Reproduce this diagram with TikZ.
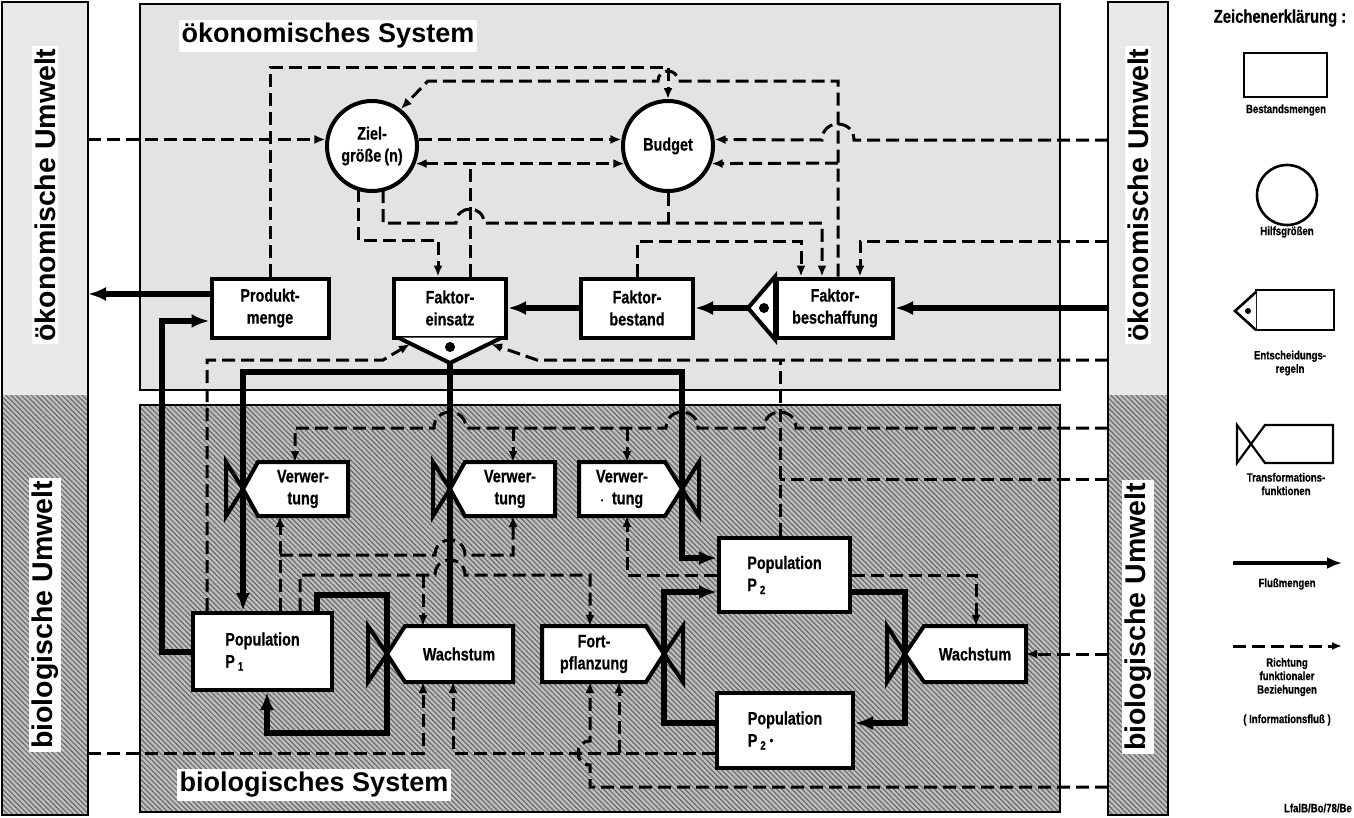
\documentclass[tikz,border=0pt]{standalone}
\usepackage{fontspec}
\setmainfont{Liberation Sans}
\newfontfamily\condf{Liberation Sans}[FakeStretch=0.8,FakeBold=0.6]
\usetikzlibrary{arrows.meta,patterns.meta}
\pgfdeclarelayer{bg}
\pgfdeclarelayer{conn}
\pgfsetlayers{bg,conn,main}
\newcommand\valveL[8]{%
  \draw[boxline,fill=white] (#4,#6) -- (#5,#6) -- (#5,#7) -- (#4,#7) -- (#3,{(#6+#7)/2}) -- cycle;
  \draw[boxline] (#2,#6) -- (#3,{(#6+#7)/2}) -- (#2,#7) -- cycle;
  \node[lab] (#1) at ({(#4+#5)/2},{(#6+#7)/2}) {#8};}
\newcommand\valveR[8]{%
  \draw[boxline,fill=white] (#2,#6) -- (#3,#6) -- (#4,{(#6+#7)/2}) -- (#3,#7) -- (#2,#7) -- cycle;
  \draw[boxline] (#5,#6) -- (#4,{(#6+#7)/2}) -- (#5,#7) -- cycle;
  \node[lab] (#1) at ({(#2+#3)/2},{(#6+#7)/2}) {#8};}
\newcommand\sbx[1]{\,\raisebox{-3pt}{\fontsize{12}{12}\selectfont #1}}
\begin{document}
\begin{tikzpicture}[x=1pt,y=-1pt,
  boxline/.style={line width=4pt,line join=miter},
  lab/.style={align=center,inner sep=0pt,font=\condf\bfseries\fontsize{18}{22}\selectfont},
  box/.style={draw,rectangle,line width=4pt,fill=white,inner sep=0pt,align=center,font=\condf\bfseries\fontsize{18}{22}\selectfont},
  circ/.style={draw,circle,line width=4pt,fill=white,minimum size=90pt,inner sep=0pt,align=center,font=\condf\bfseries\fontsize{18}{22}\selectfont},
  info/.style={line width=3pt,dash pattern=on 13pt off 6pt},
  infoa/.style={info,-{Latex[length=11pt,width=9pt]}},
  flow/.style={line width=6pt},
  flowa/.style={flow,-{Latex[length=18pt,width=14pt]}},
  sys/.style={line width=2.6pt},
  hatch/.style={fill=black!25,postaction={pattern={Lines[angle=-45,distance=3.6pt,line width=1.2pt]},pattern color=black!58}},
  title/.style={fill=white,inner sep=3pt,font=\bfseries\fontsize{27}{27}\selectfont},
  side/.style={fill=white,inner sep=3pt,rotate=90,font=\bfseries\fontsize{28.5}{28.5}\selectfont},
  leg/.style={align=center,inner sep=0pt,font=\condf\bfseries\fontsize{12}{13.5}\selectfont}]
\useasboundingbox (0,0) rectangle (1354,817);

% ---------- backgrounds ----------
\begin{pgfonlayer}{bg}
\fill[white] (0,0) rectangle (1354,817);
\fill[black!9] (2,2) rectangle (88,395);
\fill[hatch] (2,395) rectangle (88,815);
\draw[sys] (2,2) rectangle (88,815);
\fill[black!9] (1108,2) rectangle (1168,395);
\fill[hatch] (1108,395) rectangle (1168,815);
\draw[sys] (1108,2) rectangle (1168,815);
\draw[sys,fill=black!11] (140,4) rectangle (1060,390);
\fill[hatch] (140,405) rectangle (1060,812);
\draw[sys] (140,405) rectangle (1060,812);
\end{pgfonlayer}

% ---------- titles ----------
\node[title] (tEco) at (328,36) {ökonomisches System};
\node[title] (tBio) at (314,785) {biologisches System};
\node[side] (sEL) at (45,195) {ökonomische Umwelt};
\node[side] (sBL) at (45,615) {biologische Umwelt};
\node[side] (sER) at (1138,195) {ökonomische Umwelt};
\node[side] (sBR) at (1138,617) {biologische Umwelt};

% ---------- economic nodes ----------
\node[circ] (Ziel) at (372,146) {Ziel-\\größe\,(n)};
\node[circ] (Budget) at (668,146) {Budget};
\node[box,minimum width=117pt,minimum height=59pt] (Produkt) at (270,308) {Produkt-\\menge};
\node[box,minimum width=112pt,minimum height=59pt] (Einsatz) at (450,308) {Faktor-\\einsatz};
\draw[boxline,fill=white] (398,337.5) -- (450,363) -- (502,337.5);
\fill (450,347) circle (5pt);
\coordinate (Etip) at (450,363);
\node[box,minimum width=112pt,minimum height=59pt] (Bestand) at (637,308) {Faktor-\\bestand};
\node[box,minimum width=116pt,minimum height=59pt] (Besch) at (835,308) {Faktor-\\beschaffung};
\draw[boxline,fill=white] (Besch.north west) -- (748,308) -- (Besch.south west) -- cycle;
\fill (764,308) circle (5pt);

% ---------- biological nodes ----------
\node[box,minimum width=139pt,minimum height=77pt,align=left] (P1) at (262.5,651.5) {Population\\P\sbx{1}};
\node[box,minimum width=131pt,minimum height=74pt,align=left] (P2) at (784.5,575) {Population\\P\sbx{2}};
\node[box,minimum width=136pt,minimum height=75pt,align=left] (P2s) at (785,730.5) {Population\\P\sbx{2}\ \raisebox{2pt}{\fontsize{12}{12}\selectfont•}};
\valveL{Verw1}{226}{243}{258}{348}{462}{516}{Verwer-\\tung}
\valveL{Verw2}{433}{450}{465}{555}{462}{516}{Verwer-\\tung}
\valveR{Verw3}{579}{665}{682}{699}{462}{516}{Verwer-\\{\fontsize{12}{12}\selectfont·}\ \ tung}
\valveL{Wachs1}{368}{387}{405}{513}{626}{682}{Wachstum}
\valveR{Fort}{542}{646}{664}{683}{626}{682}{Fort-\\pflanzung}
\valveL{Wachs2}{887}{905}{924}{1026}{626}{682}{Wachstum}

% ---------- connectors ----------
\begin{pgfonlayer}{conn}
% economic information
\draw[infoa] (Ziel.172 -| 88,0) -- (Ziel.172);
\draw[infoa] (Ziel.8) -- (Budget.172);
\draw[info,{Latex[length=11pt,width=9pt]}-{Latex[length=11pt,width=9pt]}] (Ziel.-22) -- (Budget.202);
\draw[info] (Einsatz.north -| 470,0) -- (470,162.9);
\draw[infoa] (Produkt.north) -- (270,67) -- (668,67) -- (Budget.north);
\draw[infoa] (Besch.north -| 838,0) -- (838,81) -- (678,81) .. controls (678,67.7) and (658,67.7) .. (658,81) -- (428,81) -- (Ziel.52);
\draw[infoa] (838,163) -- (Budget.-22);
\draw[infoa] (1108,140) -- (854,140) .. controls (854,118.7) and (822,118.7) .. (822,140) -- (Budget.8);
\draw[infoa] (358,189) -- (358,240) -- (438,240) -- (Einsatz.north -| 438,0);
\draw[infoa] (383,190) -- (383,223) -- (456,223) .. controls (456,204.4) and (484,204.4) .. (484,223) -- (822,223) -- (Besch.north -| 822,0);
\draw[info] (Budget.south) -- (668,223);
\draw[infoa] (Bestand.north) -- (637,241) -- (801,241) -- (Besch.north -| 801,0);
\draw[infoa] (1108,241) -- (860,241) -- (Besch.north -| 860,0);
% economic flows
\draw[flowa] (Besch.east -| 1108,0) -- (Besch.east);
\draw[flowa] (748,308) -- (Bestand.east);
\draw[flowa] (Bestand.west) -- (Einsatz.east);
\draw[flowa] (Produkt.west |- 0,294) -- (88,294);
\draw[flowa] (P1.west) -| (162,321) -- (Produkt.west |- 0,321);
% decision inputs
\draw[infoa] (P1.north -| 207,0) -- (207,360) -- (383,360) -- (410,344);
\draw[infoa] (1108,360) -- (537,360) -- (491,344);
\draw[info] (P2.north -| 780,0) -- (780,360);
\draw[info] (1108,479) -- (780,479);
% flows from Faktoreinsatz
\draw[flowa] (Etip) -- (Wachs1.north -| 450,0);
\draw[flowa] (450,372) -| (P1.north -| 243,0);
\draw[flowa] (450,372) -| (682,558) -- (P2.west |- 0,558);
% biological information
\draw[infoa] (1108,428) -- (796,428) .. controls (796,406.7) and (764,406.7) .. (764,428) -- (698,428) .. controls (698,406.7) and (666,406.7) .. (666,428) -- (466,428) .. controls (466,406.7) and (434,406.7) .. (434,428) -- (295,428) -- (295,462);
\draw[infoa] (513,428) -- (513,462);
\draw[infoa] (627,428) -- (627,462);
\draw[infoa] (P1.north -| 280,0) -- (280,516);
\draw[infoa] (280,555) -- (435,555) .. controls (435,535) and (465,535) .. (465,555) -- (513,555) -- (513,516);
\draw[infoa] (P1.north -| 300,0) -- (300,575) -- (435,575) .. controls (435,555) and (465,555) .. (465,575) -- (590,575) -- (590,626);
\draw[infoa] (423,575) -- (423,626);
\draw[infoa] (P2.west) -| (627,516);
\draw[infoa] (P2.east) -| (976,626);
\draw[infoa] (1108,654) -- (1026,654);
\draw[infoa] (88,753) -| (423,682);
\draw[infoa] (P2s.west |- 0,753) -- (453,753) -- (453,682);
\draw[infoa] (619,753) -- (619,682);
\draw[infoa] (1108,787) -- (590,787) -- (590,765) .. controls (574,765) and (574,741) .. (590,741) -- (590,682);
% biological flows
\draw[flowa] (P1.north -| 317,0) |- (387,595) -- (387,733) -| (P1.south -| 267,0);
\draw[flowa] (P2.east |- 0,592) -| (905,723) -- (P2s.east |- 0,723);
\draw[flowa] (P2s.west |- 0,723) -| (664,592) -- (P2.west |- 0,592);
\end{pgfonlayer}

% ---------- legend ----------
\node[font=\condf\bfseries\fontsize{18.5}{20}\selectfont,inner sep=0pt] (lgT) at (1280,18) {Zeichenerklärung :};
\draw[line width=2.6pt] (1244,53) rectangle (1327,97);
\node[leg] (lg1) at (1286,110) {Bestandsmengen};
\draw[line width=2.6pt] (1287,195) circle (30pt);
\node[leg] (lg2) at (1287,232) {Hilfsgrößen};
\draw[line width=2.6pt] (1256,290) rectangle (1334,330);
\draw[line width=2.6pt,fill=white] (1256,292) -- (1235,311) -- (1256,330);
\fill (1248,311) circle (3pt);
\node[leg] (lg3) at (1290,363) {Entscheidungs-\\regeln};
\draw[line width=2.2pt] (1265,425) -- (1333,425) -- (1333,463) -- (1265,463) -- (1251,444) -- cycle;
\draw[line width=2.2pt] (1237,425) -- (1251,444) -- (1237,463) -- cycle;
\node[leg] (lg4) at (1286,484) {Transformations-\\funktionen};
\draw[line width=4.5pt,-{Latex[length=15pt,width=12pt]}] (1233,563) -- (1342,563);
\node[leg] (lg5) at (1287,584) {Flußmengen};
\draw[info,-{Latex[length=10pt,width=8pt]}] (1233,646) -- (1342,646);
\node[leg] (lg6) at (1287,677) {Richtung\\funktionaler\\Beziehungen};
\node[leg] (lg7) at (1287,720) {( Informationsfluß )};
\node[leg,anchor=east] (lg8) at (1352,808) {LfalB/Bo/78/Be};
\end{tikzpicture}
\end{document}
